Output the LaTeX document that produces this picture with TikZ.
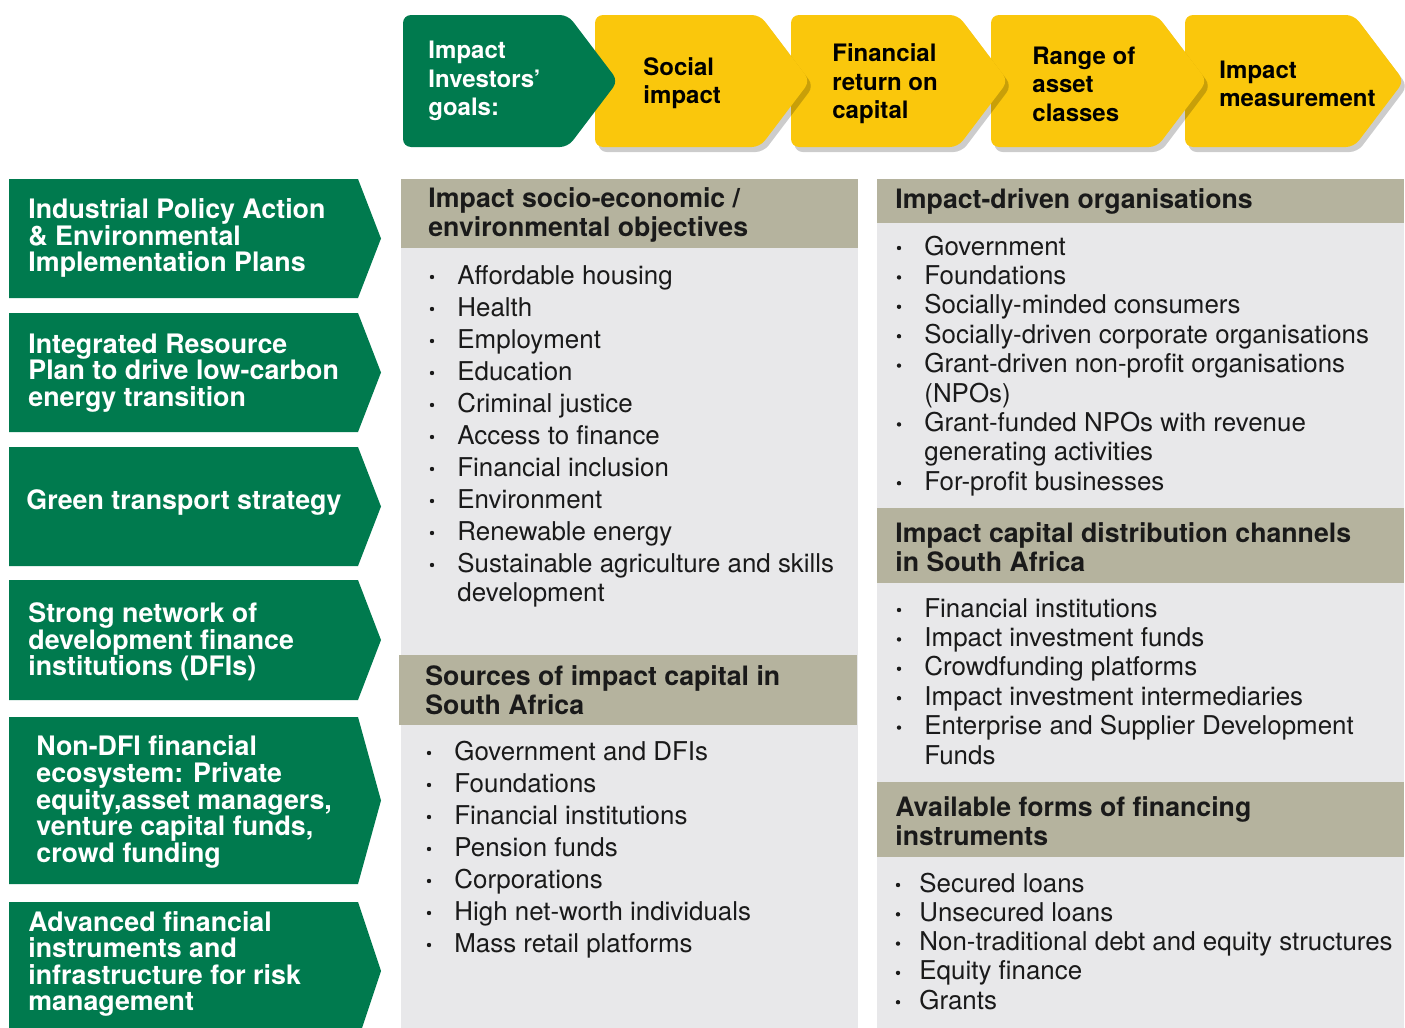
\documentclass[tikz,border=0pt]{standalone}
\usepackage{fontspec}
\setmainfont{TeX Gyre Heros}
\usetikzlibrary{shadows}
\definecolor{dfgreen}{RGB}{0,122,78}
\definecolor{dfyellow}{RGB}{250,199,12}
\definecolor{dftan}{RGB}{181,179,158}
\definecolor{dfgrey}{RGB}{232,232,234}
\definecolor{dfink}{RGB}{26,26,26}

\tikzset{
  goalbox/.style={fill=dfyellow, rounded corners=4pt,
    drop shadow={shadow xshift=1.8pt, shadow yshift=-2.5pt, opacity=0.2, fill=black}},
  investbox/.style={fill=dfgreen, rounded corners=4pt},
  driverbox/.style={fill=dfgreen},
  headbg/.style={fill=dftan},
  panelbg/.style={fill=dfgrey},
  goaltxt/.style={anchor=west, align=left, inner sep=0pt, text=black,
    font=\bfseries\fontsize{12}{14.25}\selectfont},
  drivertxt/.style={anchor=west, align=left, inner sep=0pt, text=white,
    font=\bfseries\fontsize{13.4}{13.3}\selectfont},
  headtxt/.style={anchor=west, align=left, inner sep=0pt, text=dfink,
    font=\bfseries\fontsize{13.35}{14.5}\selectfont},
  itemtxt/.style={anchor=base west, inner sep=0pt, text=dfink,
    font=\fontsize{12.95}{14.5}\selectfont},
}

% bullet x, text x, first baseline, pitch, name, {flag/text,...}
\newcommand{\itemlist}[6]{%
  \foreach \bul/\itm [count=\k from 0] in {#6}{
    \ifnum\bul=1 \fill[dfink] (#1,{#3+\k*#4-7}) circle (2.2);\fi
    \node[itemtxt] (#5-\k) at (#2,{#3+\k*#4}) {\itm};
  }}

\begin{document}
\begin{tikzpicture}[x=0.5pt,y=-0.5pt]
\useasboundingbox (0,0) rectangle (1405,1028);
\clip (0,0) rectangle (1405,1028);

% panels
\fill[panelbg] (401,248) rectangle (858,1028);
\fill[headbg] (401,179) rectangle (858,248);
\fill[headbg] (399,655) rectangle (857,725);
\fill[panelbg] (877,223) rectangle (1404,1028);
\fill[headbg] (877,179) rectangle (1404,223);
\fill[headbg] (877,508) rectangle (1404,583);
\fill[headbg] (877,782) rectangle (1404,857);

% goals, drawn right to left so each tip lies on the next box
\foreach \xl/\xt in {1185/1404, 991/1207, 791/1008, 595/810}
  \fill[goalbox] (\xl,15) -- (\xt-50,15) -- (\xt,81) -- (\xt-50,147) -- (\xl,147) -- cycle;
\fill[investbox] (403,15) -- (568,15) -- (618,81) -- (568,147) -- (403,147) -- cycle;

\node[goaltxt, text=white] (goals) at (428,81) {Impact\\Investors’\\goals:};
\node[goaltxt] (social) at (643,83) {Social\\impact};
\node[goaltxt] (return) at (832,84) {Financial\\return on\\capital};
\node[goaltxt] (range) at (1032,84) {Range of\\asset\\classes};
\node[goaltxt] (measure) at (1219,84) {Impact\\measurement};

% policy drivers
\foreach \yt/\yb in {179/298, 313/432, 447/566, 580/700, 717/884, 902/1040}
  \fill[driverbox] (9,\yt) -- (358,\yt) -- (381,{(\yt+\yb)/2}) -- (358,\yb) -- (9,\yb) -- cycle;

\node[drivertxt] (drv1) at (28,238) {Industrial Policy Action\\\& Environmental\\Implementation Plans};
\node[drivertxt] (drv2) at (28,373) {Integrated Resource\\Plan to drive low-carbon\\energy transition};
\node[drivertxt] (drv3) at (26,503) {Green transport strategy};
\node[drivertxt] (drv4) at (28,642) {Strong network of\\development finance\\institutions (DFIs)};
\node[drivertxt] (drv5) at (36,802) {Non-DFI financial\\ecosystem: Private\\equity,asset managers,\\venture capital funds,\\crowd funding};
\node[drivertxt] (drv6) at (28,964) {Advanced financial\\instruments and\\infrastructure for risk\\management};

% headers
\node[headtxt] (hobj) at (428,215) {Impact socio-economic /\\environmental objectives};
\node[headtxt] (hsrc) at (425,690) {Sources of impact capital in\\South Africa};
\node[headtxt] (horg) at (895,201) {Impact-driven organisations};
\node[headtxt] (hchn) at (895,547) {Impact capital distribution channels\\in South Africa};
\node[headtxt] (hfrm) at (895,821) {Available forms of financing\\instruments};

% lists
\itemlist{432}{457}{284}{32}{obj}{1/Affordable housing, 1/Health, 1/Employment,
  1/Education, 1/Criminal justice, 1/Access to finance, 1/Financial inclusion,
  1/Environment, 1/Renewable energy, 1/Sustainable agriculture and skills}
\node[itemtxt] (obj-dev) at ([yshift=-14.5pt]obj-9.base west) {development};
\itemlist{429}{454}{760}{32}{src}{1/Government and DFIs, 1/Foundations,
  1/Financial institutions, 1/Pension funds, 1/Corporations,
  1/High net-worth individuals, 1/Mass retail platforms}
\itemlist{899}{924}{255}{29.4}{org}{1/Government, 1/Foundations,
  1/Socially-minded consumers, 1/Socially-driven corporate organisations,
  1/Grant-driven non-profit organisations, 0/(NPOs),
  1/Grant-funded NPOs with revenue, 0/generating activities,
  1/For-profit businesses}
\itemlist{899}{924}{617}{29.4}{chn}{1/Financial institutions,
  1/Impact investment funds, 1/Crowdfunding platforms,
  1/Impact investment intermediaries, 1/Enterprise and Supplier Development,
  0/Funds}
\itemlist{898}{919}{892}{29.3}{frm}{1/Secured loans, 1/Unsecured loans,
  1/Non-traditional debt and equity structures, 1/Equity finance, 1/Grants}
\end{tikzpicture}
\end{document}
